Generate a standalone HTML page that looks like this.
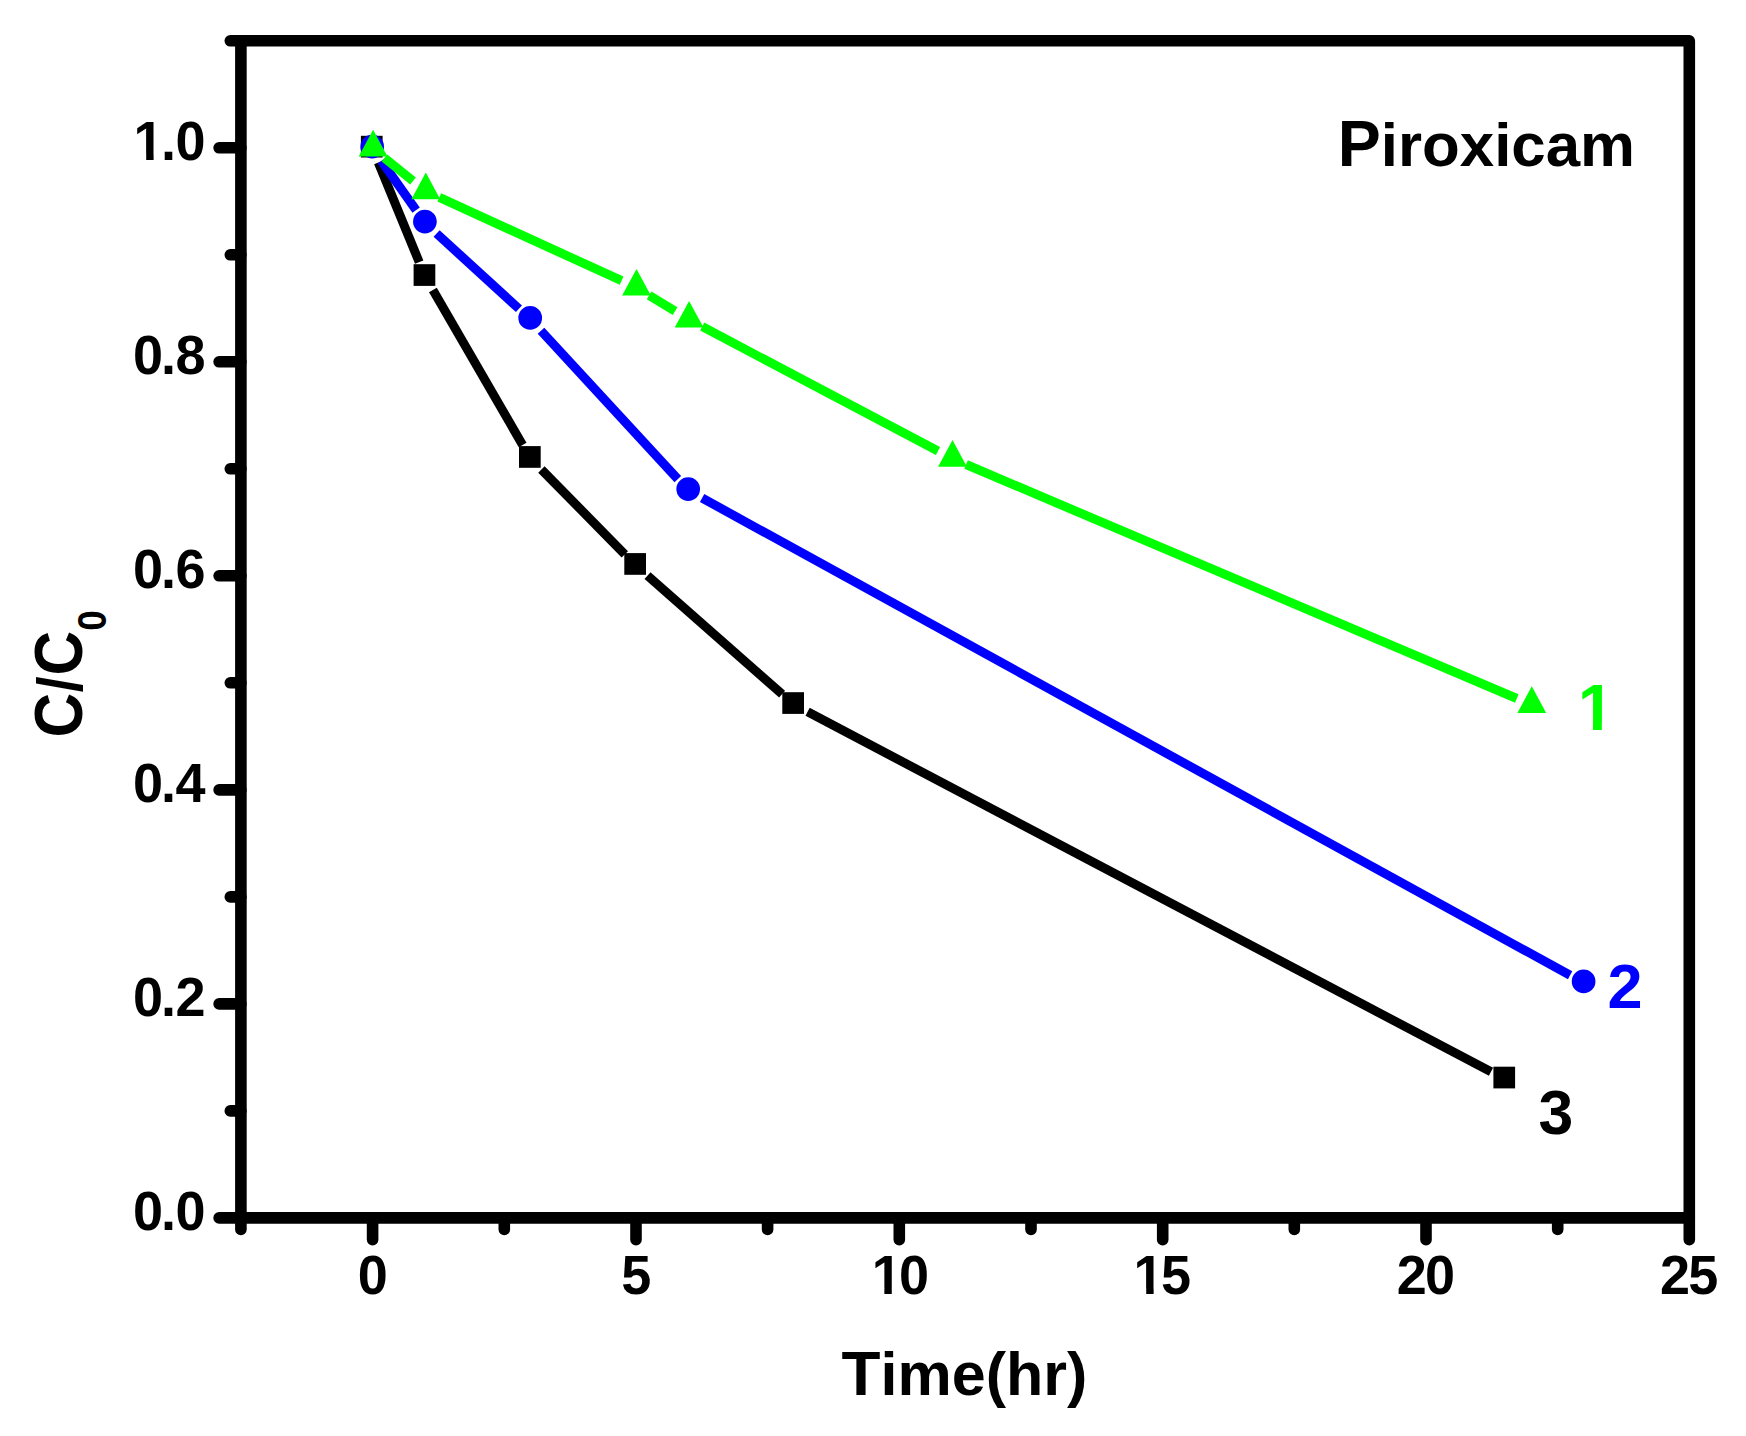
<!DOCTYPE html>
<html lang="en"><head><meta charset="utf-8"><title>Piroxicam</title>
<style>html,body{margin:0;padding:0;background:#fff}body{width:1746px;height:1436px;overflow:hidden}svg{display:block}text{font-family:"Liberation Sans",Arial,Helvetica,sans-serif;font-weight:bold}</style></head><body>
<svg width="1746" height="1436" viewBox="0 0 1746 1436">
<defs><clipPath id="k1" clipPathUnits="userSpaceOnUse"><path clip-rule="evenodd" d="M-99 -99H1845 V1535 H-99Z M135.00 -6.11H146.20V2.00H135.00Z M153.61 -6.11H164.13V2.00H153.61Z"/></clipPath><clipPath id="k2" clipPathUnits="userSpaceOnUse"><path clip-rule="evenodd" d="M-99 -99H1845 V1535 H-99Z M873.17 -6.11H884.37V2.00H873.17Z M891.78 -6.11H902.30V2.00H891.78Z"/></clipPath><clipPath id="k3" clipPathUnits="userSpaceOnUse"><path clip-rule="evenodd" d="M-99 -99H1845 V1535 H-99Z M1135.02 -6.11H1146.22V2.00H1135.02Z M1153.63 -6.11H1164.15V2.00H1153.63Z"/></clipPath><clipPath id="k4" clipPathUnits="userSpaceOnUse"><path clip-rule="evenodd" d="M-99 -99H1845 V1535 H-99Z M1579.96 722.82H1592.95V732.00H1579.96Z M1601.80 722.82H1613.97V732.00H1601.80Z"/></clipPath></defs>
<rect width="1746" height="1436" fill="#fff"/>
<g stroke="#000" stroke-width="9.0" stroke-linecap="butt" fill="none">
<line x1="378.3" y1="162.5" x2="419.2" y2="262.1"/>
<line x1="432.9" y1="290.0" x2="522.6" y2="444.9"/>
<line x1="541.4" y1="469.5" x2="624.8" y2="554.3"/>
<line x1="647.5" y1="575.7" x2="782.1" y2="694.2"/>
<line x1="807.6" y1="711.8" x2="1491.0" y2="1071.8"/>
</g>
<g fill="#000">
<rect x="360.9" y="135.8" width="21.7" height="21.7"/>
<rect x="413.6" y="264.2" width="21.7" height="21.7"/>
<rect x="519.0" y="446.1" width="21.7" height="21.7"/>
<rect x="624.3" y="553.1" width="21.7" height="21.7"/>
<rect x="782.3" y="692.2" width="21.7" height="21.7"/>
<rect x="1493.4" y="1066.7" width="21.7" height="21.7"/>
</g>
<g stroke="#0000ff" stroke-width="9.0" stroke-linecap="butt" fill="none">
<line x1="381.4" y1="160.9" x2="416.1" y2="210.2"/>
<line x1="436.6" y1="233.5" x2="518.9" y2="308.8"/>
<line x1="541.0" y1="330.8" x2="677.8" y2="479.1"/>
<line x1="702.1" y1="498.0" x2="1570.1" y2="975.3"/>
</g>
<g fill="#0000ff">
<circle cx="372.2" cy="146.7" r="11.85"/>
<circle cx="424.9" cy="221.6" r="11.85"/>
<circle cx="530.2" cy="317.9" r="11.85"/>
<circle cx="688.2" cy="489.1" r="11.85"/>
<circle cx="1583.6" cy="981.4" r="11.85"/>
</g>
<g stroke="#00ff00" stroke-width="9.0" stroke-linecap="butt" fill="none">
<line x1="384.5" y1="157.9" x2="413.0" y2="181.1"/>
<line x1="439.3" y1="197.4" x2="621.6" y2="280.7"/>
<line x1="649.1" y1="295.3" x2="675.1" y2="311.2"/>
<line x1="702.2" y1="326.6" x2="938.0" y2="451.1"/>
<line x1="966.1" y1="464.5" x2="1516.8" y2="698.5"/>
</g>
<g fill="#00ff00">
<polygon points="373.1,129.8 358.7,156.4 387.5,156.4"/>
<polygon points="425.8,172.6 411.4,199.2 440.2,199.2"/>
<polygon points="636.5,268.9 622.1,295.5 650.9,295.5"/>
<polygon points="689.1,301.0 674.7,327.6 703.5,327.6"/>
<polygon points="952.5,440.1 938.1,466.7 966.9,466.7"/>
<polygon points="1531.8,686.3 1517.4,712.9 1546.2,712.9"/>
</g>
<g stroke="#000" stroke-width="11.6" stroke-linecap="round" stroke-linejoin="round" fill="none">
<path d="M240.9 40.8 H1689.3 V1217.9"/>
<path d="M240.9 40.8 V1217.9"/>
<path d="M240.9 1217.9 H1689.3" stroke-linecap="butt"/>
<line x1="240.9" y1="1217.9" x2="219.1" y2="1217.9"/>
<line x1="240.9" y1="1110.9" x2="230.3" y2="1110.9"/>
<line x1="240.9" y1="1003.9" x2="219.1" y2="1003.9"/>
<line x1="240.9" y1="896.9" x2="230.3" y2="896.9"/>
<line x1="240.9" y1="789.9" x2="219.1" y2="789.9"/>
<line x1="240.9" y1="682.8" x2="230.3" y2="682.8"/>
<line x1="240.9" y1="575.8" x2="219.1" y2="575.8"/>
<line x1="240.9" y1="468.8" x2="230.3" y2="468.8"/>
<line x1="240.9" y1="361.8" x2="219.1" y2="361.8"/>
<line x1="240.9" y1="254.8" x2="230.3" y2="254.8"/>
<line x1="240.9" y1="147.8" x2="219.1" y2="147.8"/>
<line x1="240.9" y1="40.8" x2="230.3" y2="40.8"/>
<line x1="240.9" y1="1217.9" x2="240.9" y2="1229.5"/>
<line x1="372.6" y1="1217.9" x2="372.6" y2="1239.7"/>
<line x1="504.3" y1="1217.9" x2="504.3" y2="1229.5"/>
<line x1="636.0" y1="1217.9" x2="636.0" y2="1239.7"/>
<line x1="767.6" y1="1217.9" x2="767.6" y2="1229.5"/>
<line x1="899.3" y1="1217.9" x2="899.3" y2="1239.7"/>
<line x1="1031.0" y1="1217.9" x2="1031.0" y2="1229.5"/>
<line x1="1162.7" y1="1217.9" x2="1162.7" y2="1239.7"/>
<line x1="1294.3" y1="1217.9" x2="1294.3" y2="1229.5"/>
<line x1="1426.0" y1="1217.9" x2="1426.0" y2="1239.7"/>
<line x1="1557.7" y1="1217.9" x2="1557.7" y2="1229.5"/>
<line x1="1689.3" y1="1217.9" x2="1689.3" y2="1239.7"/>
</g>
<g font-size="54" fill="#000">
<text transform="translate(0 1230.3) scale(1 1.03)" x="133.0 161.0 175.4" y="0">0.0</text>
<text transform="translate(0 1016.3) scale(1 1.03)" x="133.0 161.0 175.4" y="0">0.2</text>
<text transform="translate(0 802.3) scale(1 1.03)" x="133.0 161.0 175.4" y="0">0.4</text>
<text transform="translate(0 588.2) scale(1 1.03)" x="133.0 161.0 175.4" y="0">0.6</text>
<text transform="translate(0 374.2) scale(1 1.03)" x="133.0 161.0 175.4" y="0">0.8</text>
<text transform="translate(0 160.2) scale(1 1.03)" x="133.6 161.0 175.4" y="0" clip-path="url(#k1)">1.0</text>
<text transform="translate(0 1294.3) scale(1 1.03)" x="372.9" y="0" text-anchor="middle">0</text>
<text transform="translate(0 1294.3) scale(1 1.03)" x="636.2" y="0" text-anchor="middle">5</text>
<text transform="translate(0 1294.3) scale(1 1.03)" x="871.8 899.0" y="0" clip-path="url(#k2)">10</text>
<text transform="translate(0 1294.3) scale(1 1.03)" x="1133.6 1160.9" y="0" clip-path="url(#k3)">15</text>
<text transform="translate(0 1294.3) scale(1 1.03)" x="1396.8 1425.0" y="0">20</text>
<text transform="translate(0 1294.3) scale(1 1.03)" x="1660.1 1688.3" y="0">25</text>
</g>
<text transform="translate(1337.8 165.6)" font-size="61.8" fill="#000"><tspan font-size="64.5">P</tspan>iroxicam</text>
<text transform="translate(964.4 1395.4)" font-size="61" fill="#000" text-anchor="middle"><tspan font-size="63.8">T</tspan>ime(hr)</text>
<text transform="translate(81.8 737.6) rotate(-90) scale(1 1.095)" font-size="62" fill="#000">C<tspan font-size="57" dx="0.7">/</tspan><tspan dx="0.7">C</tspan><tspan font-size="37" dy="22.1">0</tspan></text>
<text x="1577.9" y="730" font-size="64.5" fill="#00ff00" clip-path="url(#k4)">1</text>
<text x="1607.6" y="1008" font-size="63" fill="#0000ff">2</text>
<text x="1538.6" y="1133.6" font-size="62.5" fill="#000">3</text>
</svg></body></html>
